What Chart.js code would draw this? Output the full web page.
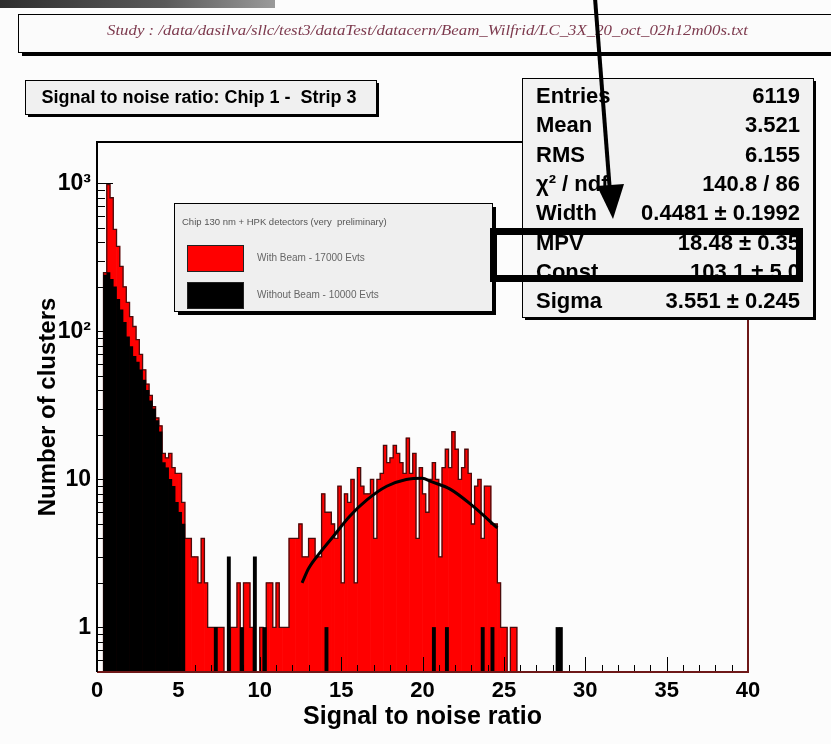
<!DOCTYPE html>
<html>
<head>
<meta charset="utf-8">
<title>Signal to noise ratio: Chip 1 - Strip 3</title>
<script src="https://cdn.jsdelivr.net/npm/chart.js@4.4.1/dist/chart.umd.min.js"></script>
<style>
  html, body { margin: 0; padding: 0; background: #fcfcfc; }
  #wrap { position: relative; width: 831px; height: 744px; }
</style>
</head>
<body>
<div id="wrap"><canvas id="snr"></canvas></div>
<script>
// histogram binning: 200 bins of 0.2 between 0 and 40
const binStart = 0;
const binWidth = 0.2;

// counts per bin (log scale, so rough)
const withBeam = [
  0, 0, 250, 980, 800, 490, 375, 275, 200, 157,
  126, 108, 88, 70, 55, 44, 37, 31, 26, 23,
  15, 14, 15, 12, 11, 11, 7, 4, 4, 3,
  3, 2, 4, 2, 1, 1, 1, 1, 1, 0,
  0, 1, 1, 2, 0, 2, 2, 1, 0, 0,
  1, 0, 2, 2, 1, 2, 1, 1, 1, 4,
  4, 4, 5, 3, 3, 4, 4, 3, 3, 8,
  6, 6, 5, 4, 9, 2, 8, 7, 10, 2,
  12, 9, 8, 8, 10, 4, 10, 11, 17, 13,
  14, 17, 15, 13, 11, 19, 11, 15, 4, 12,
  8, 6, 10, 13, 10, 3, 12, 16, 12, 21,
  16, 10, 12, 16, 11, 5, 9, 10, 4, 9,
  9, 5, 5, 2, 1, 1, 0, 1, 1, 0,
  0, 0, 0, 0, 0, 0, 0, 0, 0, 0,
  0, 0, 0, 0, 0, 0, 0, 0, 0, 0,
  0, 0, 0, 0, 0, 0, 0, 0, 0, 0,
  0, 0, 0, 0, 0, 0, 0, 0, 0, 0,
  0, 0, 0, 0, 0, 0, 0, 0, 0, 0,
  0, 0, 0, 0, 0, 0, 0, 0, 0, 0,
  0, 0, 0, 0, 0, 0, 0, 0, 0, 0
];
const withoutBeam = [
  0, 0, 240, 250, 225, 200, 165, 140, 115, 92,
  79, 68, 62, 55, 47, 40, 34, 30, 25, 21,
  13, 12, 10, 9, 7, 6, 5, 0, 0, 0,
  0, 0, 0, 0, 0, 0, 1, 0, 0, 0,
  3, 0, 0, 0, 1, 0, 0, 0, 3, 0,
  0, 1, 0, 0, 0, 0, 0, 0, 0, 0,
  0, 0, 0, 0, 0, 0, 0, 0, 0, 0,
  1, 0, 0, 0, 0, 0, 0, 0, 0, 0,
  0, 0, 0, 0, 0, 0, 0, 0, 0, 0,
  0, 0, 0, 0, 0, 0, 0, 0, 0, 0,
  0, 0, 0, 1, 0, 0, 0, 1, 0, 0,
  0, 0, 0, 0, 0, 0, 0, 0, 1, 0,
  0, 1, 0, 0, 0, 0, 0, 0, 0, 0,
  0, 0, 0, 0, 0, 0, 0, 0, 0, 0,
  0, 1, 1, 0, 0, 0, 0, 0, 0, 0,
  0, 0, 0, 0, 0, 0, 0, 0, 0, 0,
  0, 0, 0, 0, 0, 0, 0, 0, 0, 0,
  0, 0, 0, 0, 0, 0, 0, 0, 0, 0,
  0, 0, 0, 0, 0, 0, 0, 0, 0, 0,
  0, 0, 0, 0, 0, 0, 0, 0, 0, 0
];

// fitted curve, sampled off the plot
const fitX = [12.6, 13.0, 13.7, 14.5, 15.5, 16.6, 17.8, 19.0, 20.0, 20.5, 21.7, 23.1, 24.6];
const fitY = [2.0, 2.5, 3.2, 4.1, 5.6, 7.3, 9.0, 10.0, 10.2, 9.7, 8.6, 6.6, 4.7];

const xMin = 0, xMax = 40, xStep = 5;
const yMin = 0.5, yMax = 1905;
const yTicks = [1, 10, 100, 1000];
const yTickLabels = ['1', '10', '10²', '10³'];

const seriesNames = ['With Beam - 17000 Evts', 'Without Beam - 10000 Evts'];
const legendHeader = 'Chip 130 nm + HPK detectors (very  preliminary)';
const histTitle = 'Signal to noise ratio: Chip 1 -  Strip 3';
const studyText = 'Study : /data/dasilva/sllc/test3/dataTest/datacern/Beam_Wilfrid/LC_3X_20_oct_02h12m00s.txt';
const statLabels = ['Entries', 'Mean', 'RMS', 'χ² / ndf', 'Width', 'MPV', 'Const', 'Sigma'];
const statValues = ['6119', '3.521', '6.155', '140.8 / 86', '0.4481 ± 0.1992', '18.48 ± 0.35', '103.1 ± 5.0', '3.551 ± 0.245'];

const RED = '#ff0000';
const OUTLINE = '#4a0c0c';
const SANS = '"Liberation Sans", Arial, sans-serif';

// build points for the library
const centers = withBeam.map((_, i) => binStart + (i + 0.5) * binWidth);
const toBars = arr => arr.map((v, i) => ({ x: centers[i], y: v }));

// staircase outline of the red histogram (empty bins drop below the axis)
const redOutline = [];
withBeam.forEach((v, i) => {
  const lo = binStart + i * binWidth;
  const h = v > 0 ? v : yMin * 0.6;
  redOutline.push({ x: lo, y: h }, { x: lo + binWidth, y: h });
});

const fitPoints = fitX.map((x, i) => ({ x: x, y: fitY[i] }));

// ROOT style inner tick marks and frame
const rootFrame = {
  id: 'rootFrame',
  afterDatasetsDraw(chart) {
    const { ctx, chartArea: a } = chart;
    const xs = chart.scales.x, ys = chart.scales.y;
    ctx.save();
    ctx.strokeStyle = '#000';
    ctx.lineWidth = 1;
    ctx.beginPath();
    for (let v = xs.min; v <= xs.max; v++) {
      const px = Math.round(xs.getPixelForValue(v)) + 0.5;
      ctx.moveTo(px, a.bottom);
      ctx.lineTo(px, a.bottom - (v % xStep === 0 ? 15 : 7));
    }
    for (let e = -1; e <= 3; e++) {
      for (let m = 1; m < 10; m++) {
        const v = m * Math.pow(10, e);
        if (v < ys.min || v > ys.max) continue;
        const py = Math.round(ys.getPixelForValue(v)) + 0.5;
        ctx.moveTo(a.left, py);
        ctx.lineTo(a.left + (m === 1 ? 16 : 8), py);
      }
    }
    ctx.stroke();

    ctx.lineWidth = 2;
    ctx.strokeStyle = '#6e1818';
    ctx.beginPath();
    ctx.moveTo(a.left, a.bottom);
    ctx.lineTo(a.right, a.bottom);
    ctx.lineTo(a.right, a.top);
    ctx.stroke();
    ctx.strokeStyle = '#000';
    ctx.beginPath();
    ctx.moveTo(a.right, a.top);
    ctx.lineTo(a.left, a.top);
    ctx.lineTo(a.left, a.bottom);
    ctx.stroke();
    ctx.restore();
  }
};

function pave(ctx, x, y, w, h, fill, shadow) {
  ctx.fillStyle = '#000';
  ctx.fillRect(x + shadow, y + shadow, w, h);
  ctx.fillStyle = fill;
  ctx.fillRect(x, y, w, h);
  ctx.strokeStyle = '#000';
  ctx.lineWidth = 1;
  ctx.strokeRect(x + 0.5, y + 0.5, w, h);
}

// title, stats and legend panes, plus the annotation on the slide
const decorations = {
  id: 'decorations',
  afterDraw(chart) {
    const ctx = chart.ctx;
    ctx.save();

    // bit of the slide above
    const g = ctx.createLinearGradient(0, 0, 275, 0);
    g.addColorStop(0, '#2e2e2e');
    g.addColorStop(0.6, '#5a5a5a');
    g.addColorStop(1, '#9a9a9a');
    ctx.fillStyle = g;
    ctx.fillRect(0, 0, 275, 8);

    // file name pane
    pave(ctx, 18, 14, 830, 38, '#fbfbfb', 4);
    ctx.font = 'italic 14px "Liberation Serif", serif';
    ctx.fillStyle = '#7d3a4e';
    ctx.textBaseline = 'middle';
    const tw = ctx.measureText(studyText).width;
    ctx.save();
    ctx.translate(107, 31);
    ctx.scale(641 / tw, 1);
    ctx.textAlign = 'left';
    ctx.fillText(studyText, 0, 0);
    ctx.restore();

    // histogram title pane
    pave(ctx, 25, 80, 351, 34, '#f0f0f0', 3);
    ctx.font = 'bold 18px ' + SANS;
    ctx.fillStyle = '#000';
    ctx.textAlign = 'center';
    ctx.fillText(histTitle, 199, 98);

    // legend pane
    pave(ctx, 174, 203, 318, 108, '#efefef', 4);
    ctx.textAlign = 'left';
    ctx.fillStyle = '#555';
    ctx.font = '9.5px ' + SANS;
    ctx.fillText(legendHeader, 182, 222);
    const swatches = [RED, '#000'];
    seriesNames.forEach((name, i) => {
      const sy = 245 + i * 37;
      ctx.fillStyle = swatches[i];
      ctx.fillRect(187, sy, 56, 26);
      ctx.strokeStyle = '#222';
      ctx.strokeRect(187.5, sy + 0.5, 56, 26);
      ctx.fillStyle = '#666';
      ctx.font = '10px ' + SANS;
      ctx.fillText(name, 257, sy + 13);
    });

    // stats pane
    pave(ctx, 522, 78, 291, 239, '#f2f2f2', 3);
    ctx.font = 'bold 22px ' + SANS;
    ctx.fillStyle = '#000';
    statLabels.forEach((lab, i) => {
      const ty = 97 + i * 29.3;
      ctx.textAlign = 'left';
      ctx.fillText(lab, 536, ty);
      ctx.textAlign = 'right';
      ctx.fillText(statValues[i], 800, ty);
    });

    // hand drawn box round MPV
    ctx.strokeStyle = '#000';
    ctx.lineWidth = 7;
    ctx.strokeRect(493.5, 231.5, 306, 47);

    // arrow
    ctx.lineWidth = 4;
    ctx.beginPath();
    ctx.moveTo(595, -2);
    ctx.lineTo(610, 192);
    ctx.stroke();
    ctx.fillStyle = '#000';
    ctx.beginPath();
    ctx.moveTo(597, 186);
    ctx.lineTo(624, 184);
    ctx.lineTo(613, 219);
    ctx.closePath();
    ctx.fill();

    ctx.restore();
  }
};

const ctx = document.getElementById('snr');
new Chart(ctx, {
  type: 'bar',
  data: {
    datasets: [
      {
        type: 'line',
        label: 'fit',
        data: fitPoints,
        borderColor: '#000',
        borderWidth: 3,
        pointRadius: 0,
        cubicInterpolationMode: 'monotone',
        fill: false,
        order: 0
      },
      {
        label: seriesNames[1],
        data: toBars(withoutBeam),
        backgroundColor: '#000',
        borderWidth: 0,
        grouped: false,
        barPercentage: 1,
        categoryPercentage: 1,
        order: 1
      },
      {
        type: 'line',
        label: 'outline',
        data: redOutline,
        borderColor: OUTLINE,
        borderWidth: 1.3,
        pointRadius: 0,
        tension: 0,
        fill: false,
        order: 2
      },
      {
        label: seriesNames[0],
        data: toBars(withBeam),
        backgroundColor: RED,
        borderWidth: 0,
        grouped: false,
        barPercentage: 1,
        categoryPercentage: 1,
        order: 3
      }
    ]
  },
  options: {
    responsive: true,
    maintainAspectRatio: false,
    animation: false,
    events: [],
    layout: { padding: { top: 142, right: 83, bottom: 0, left: 0 } },
    plugins: {
      legend: { display: false },
      tooltip: { enabled: false }
    },
    scales: {
      x: {
        type: 'linear',
        min: xMin,
        max: xMax,
        offset: false,
        grid: { display: false, drawTicks: false, offset: false },
        border: { display: false },
        ticks: {
          stepSize: xStep,
          autoSkip: false,
          maxRotation: 0,
          padding: 6,
          color: '#000',
          font: { family: SANS, size: 22, weight: 'bold' }
        },
        title: {
          display: true,
          text: 'Signal to noise ratio',
          color: '#000',
          font: { family: SANS, size: 25, weight: 'bold' },
          padding: { top: 0, bottom: 12 }
        },
        afterFit: s => { s.height = 72; }
      },
      y: {
        type: 'logarithmic',
        min: yMin,
        max: yMax,
        grid: { display: false, drawTicks: false },
        border: { display: false },
        afterBuildTicks: s => { s.ticks = yTicks.map(v => ({ value: v })); },
        ticks: {
          padding: 6,
          color: '#000',
          font: { family: SANS, size: 23, weight: 'bold' },
          callback: v => {
            const k = yTicks.indexOf(v);
            return k >= 0 ? yTickLabels[k] : '';
          }
        },
        title: {
          display: true,
          text: 'Number of clusters',
          color: '#000',
          font: { family: SANS, size: 24, weight: 'bold' },
          padding: { top: 34, bottom: 0 }
        },
        afterFit: s => { s.width = 97; }
      }
    }
  },
  plugins: [rootFrame, decorations]
});
</script>
</body>
</html>
